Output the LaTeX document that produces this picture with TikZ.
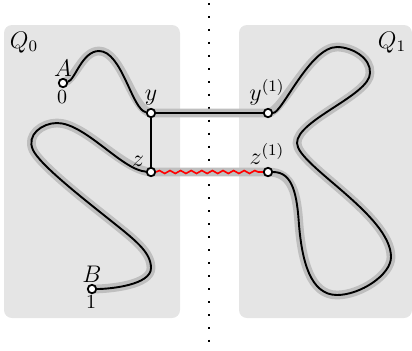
\documentclass[tikz,border=0pt]{standalone}
\usetikzlibrary{decorations.pathmorphing}
\begin{document}
\begin{tikzpicture}[x=0.5pt,y=-0.5pt,
  pt/.style={circle,draw=black,fill=white,line width=0.9pt,inner sep=0pt,minimum size=4.2pt},
  halo/.style={line width=4.4pt,draw=gray!50,line cap=round,line join=round},
  curve/.style={line width=0.95pt,draw=black},
  lab/.style={font=\fontsize{12}{14}\selectfont,inner sep=0pt,anchor=base},
  num/.style={font=\fontsize{10}{12}\selectfont,inner sep=0pt,anchor=base},
  box/.style={fill=gray!20,rounded corners=4pt},
  dots/.style={line width=1pt,dash pattern=on 1pt off 5.48pt},
  wavy/.style={draw=red,line width=0.8pt,decorate,decoration={snake,amplitude=0.75pt,segment length=5.3pt}}
]
\useasboundingbox (0,0) rectangle (412,350);
\fill[box] (4,25) rectangle (180,318);
\fill[box] (239,25) rectangle (412,318);
\draw[dots] (209,3) -- (209,346);

\coordinate (cA) at (63,83);
\coordinate (cy) at (151,113);
\coordinate (cz) at (151,172);
\coordinate (cy1) at (268,113);
\coordinate (cz1) at (268,172);
\coordinate (cB) at (92,289);

\draw[halo] (cA) .. controls (75,80) and (82,51) .. (99,51) .. controls (122,51) and (132,110) .. (cy)
  -- (cy1) .. controls (282,113) and (310,47) .. (337,47) .. controls (352,47) and (371,58) .. (370,73) .. controls (370,95) and (297,120) .. (297,143) .. controls (297,165) and (391,215) .. (391,257) .. controls (391,275) and (360,295) .. (337,295) .. controls (310,295) and (302,260) .. (299,225) .. controls (297,195) and (293,172) .. (cz1)
  -- (cz) .. controls (122,170) and (85,123) .. (57,123) .. controls (42,123) and (26,135) .. (33,150) .. controls (40,165) and (85,200) .. (110,220) .. controls (135,240) and (151,252) .. (151,268) .. controls (151,285) and (110,289) .. (cB);

\node[pt] (A) at (cA) {};
\node[pt] (y) at (cy) {};
\node[pt] (z) at (cz) {};
\node[pt] (y1) at (cy1) {};
\node[pt] (z1) at (cz1) {};
\node[pt] (B) at (cB) {};

\draw[curve] (A) .. controls (75,80) and (82,51) .. (99,51) .. controls (122,51) and (132,110) .. (y);
\draw[curve] (y) -- (y1);
\draw[curve] (y) -- (z);
\draw[curve] (y1) .. controls (282,113) and (310,47) .. (337,47) .. controls (352,47) and (371,58) .. (370,73) .. controls (370,95) and (297,120) .. (297,143) .. controls (297,165) and (391,215) .. (391,257) .. controls (391,275) and (360,295) .. (337,295) .. controls (310,295) and (302,260) .. (299,225) .. controls (297,195) and (293,172) .. (z1);
\draw[curve] (z) .. controls (122,170) and (85,123) .. (57,123) .. controls (42,123) and (26,135) .. (33,150) .. controls (40,165) and (85,200) .. (110,220) .. controls (135,240) and (151,252) .. (151,268) .. controls (151,285) and (110,289) .. (B);
\draw[wavy] (z) -- (z1);

\node[lab] (lA) at (63,76) {$A$};
\node[num] (l0) at (62,103) {$0$};
\node[lab] (ly) at (151,100) {$y$};
\node[lab] (lz) at (138,166) {$z$};
\node[lab] (ly1) at (267,100) {$y^{(1)}$};
\node[lab] (lz1) at (267,164) {$z^{(1)}$};
\node[lab] (lB) at (92,282) {$B$};
\node[num] (l1) at (91,308) {$1$};
\node[lab] (lQ0) at (24,48) {$Q_0$};
\node[lab] (lQ1) at (392,48) {$Q_1$};
\end{tikzpicture}
\end{document}
